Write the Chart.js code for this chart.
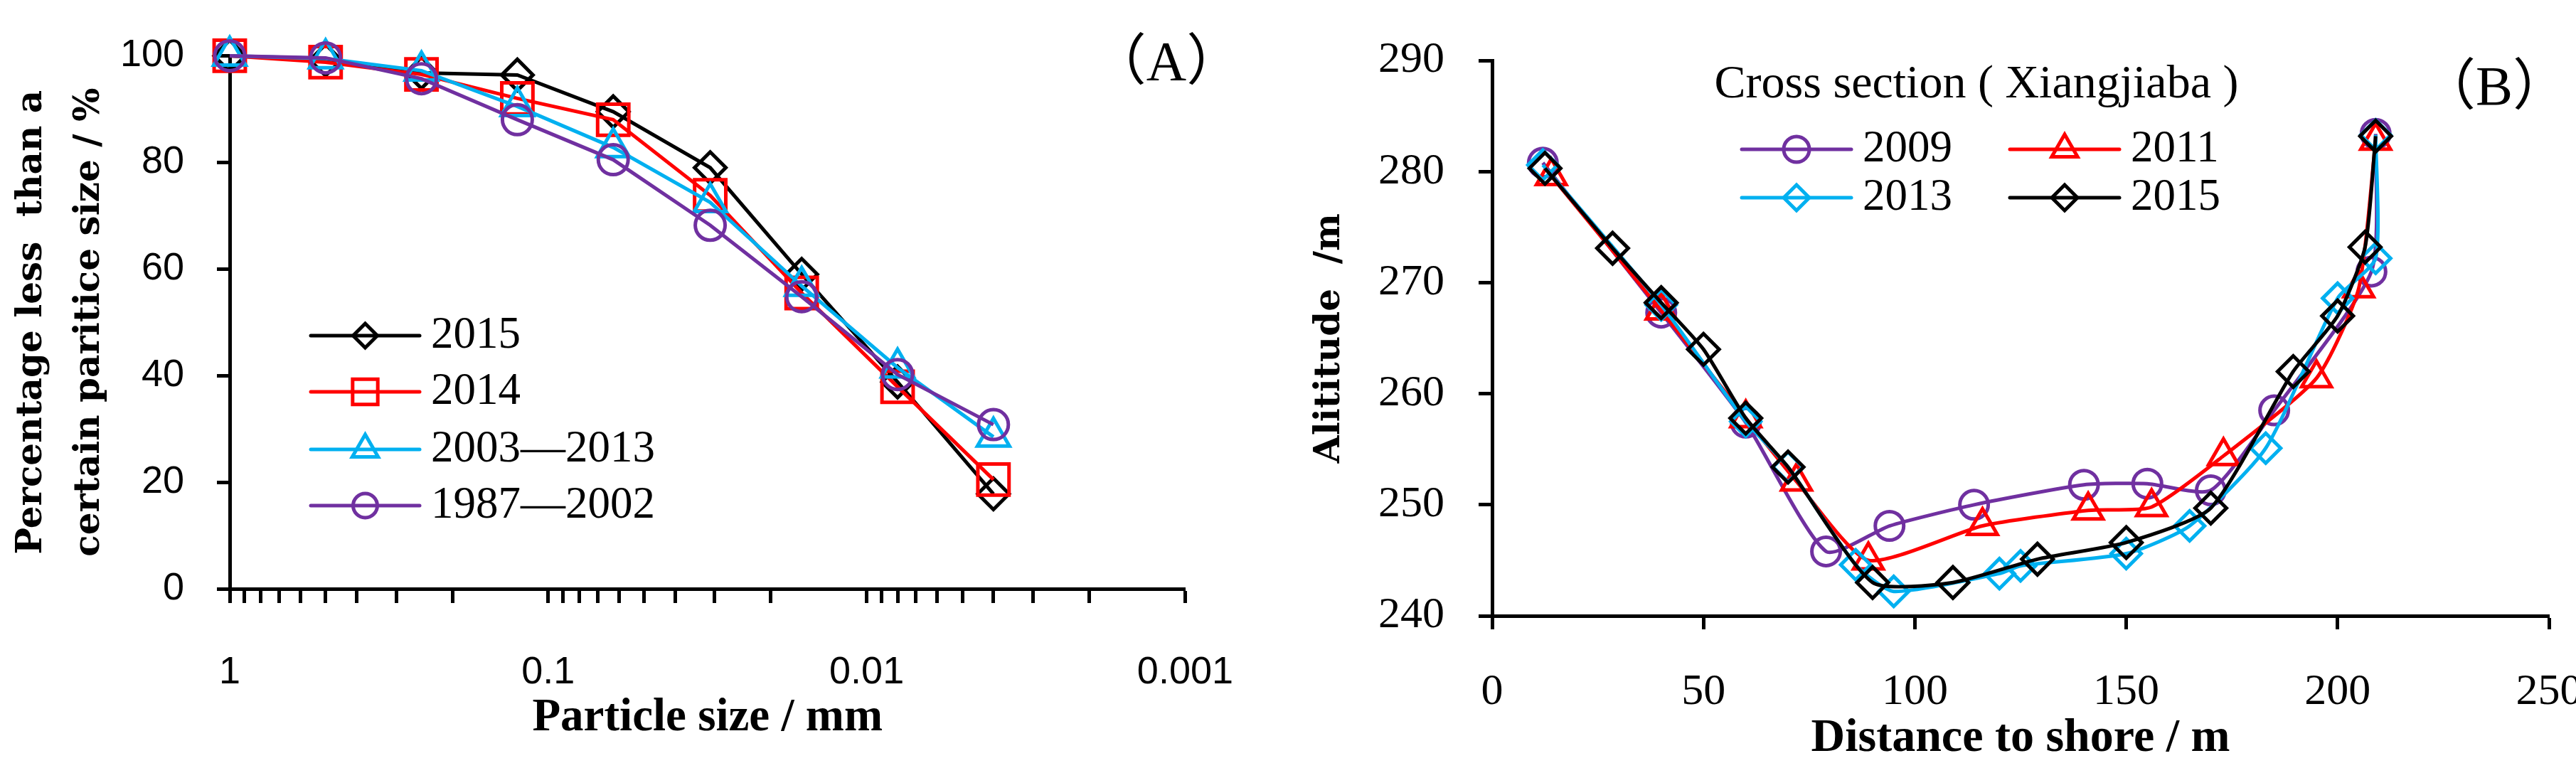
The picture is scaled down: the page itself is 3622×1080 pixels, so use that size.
<!DOCTYPE html>
<html>
<head>
<meta charset="utf-8">
<title>Particle size and cross section</title>
<script src="https://cdn.jsdelivr.net/npm/chart.js@4.4.1/dist/chart.umd.min.js"></script>
<style>
  html, body { margin: 0; padding: 0; background: #fff; overflow: hidden; width: 3622px; height: 1080px; }
  #chartA { position: absolute; left: 0; top: 0; }
  #chartB { position: absolute; left: 1800px; top: 0; }
</style>
</head>
<body>
<canvas id="chartA" width="1800" height="1080"></canvas>
<canvas id="chartB" width="1900" height="1080"></canvas>
<script>
// ---- (A) percentage finer than a given particle size ----
const sizes = [1, 0.5, 0.25, 0.125, 0.0625, 0.031, 0.016, 0.008, 0.004];
const finer2015 = [100, 99.2, 96.8, 96.4, 89.5, 79.0, 59.0, 38.8, 17.8];
const finer2014 = [100, 98.8, 96.5, 92.0, 88.0, 73.8, 55.5, 37.9, 20.5];
const finer2003to2013 = [100, 99.5, 97.2, 90.5, 82.8, 72.5, 56.8, 41.5, 28.5];
const finer1987to2002 = [100, 99.6, 95.7, 88.0, 80.5, 68.2, 54.8, 40.2, 30.8];
const sizeTickLabels = ['1', '0.1', '0.01', '0.001'];
const percentTicks = [0, 20, 40, 60, 80, 100];

// ---- (B) cross section at Xiangjiaba ----
const dist2009 = [12, 40, 60, 79, 94, 114, 140, 155, 170, 185, 208, 209];
const alt2009 = [280.8, 267.3, 257.4, 245.8, 248.1, 250.0, 251.8, 251.9, 251.3, 258.5, 271.0, 283.4];
const dist2011 = [14, 40, 60, 72, 89, 116, 141, 156, 173, 195, 205, 209];
const alt2011 = [279.6, 267.5, 257.8, 252.1, 245.0, 248.1, 249.5, 249.8, 254.4, 261.4, 269.5, 282.8];
const dist2013 = [12, 40, 60, 70, 86, 95, 120, 125, 150, 165, 183, 200, 209, 209];
const alt2013 = [280.6, 268.0, 257.5, 253.4, 244.6, 242.2, 243.8, 244.5, 245.6, 248.1, 255.1, 268.6, 272.2, 283.3];
const dist2015 = [12.5, 28.5, 40, 50, 60, 70, 90, 109, 129, 150, 170, 189.5, 200, 206.5, 209];
const alt2015 = [280.3, 273.1, 268.2, 264.0, 257.8, 253.4, 243.0, 243.0, 245.1, 246.6, 249.7, 262.0, 267.0, 273.2, 283.2];
const distanceTicks = [0, 50, 100, 150, 200, 250];
const altitudeTicks = [240, 250, 260, 270, 280, 290];

const BLACK = '#000000', RED = '#ff0000', CYAN = '#00b0f0', PURPLE = '#7030a0';
const NONE = 'rgba(0,0,0,0)';
const SERIF = "'Liberation Serif', 'Times New Roman', serif";
const WIDE_SERIF = "'DejaVu Serif', serif";

// log axis: a tick at every 1..9 step of each decade, labels only on the decades
const decades = sizeTickLabels.map(Number);
const sizeTickValues = [];
decades.slice(0, -1).forEach(d => {
  for (let m = 10; m >= 2; m--) sizeTickValues.push(Number((d * m / 10).toPrecision(6)));
});
sizeTickValues.push(decades[decades.length - 1]);

function zip(xs, ys) {
  return xs.map((x, i) => ({ x: x, y: ys[i] }));
}

function series(label, xs, ys, color, style, radius, order, tension) {
  return {
    label: label,
    data: zip(xs, ys),
    borderColor: color,
    backgroundColor: NONE,
    borderWidth: 5,
    pointStyle: style,
    pointRadius: radius,
    pointHoverRadius: radius,
    pointBorderWidth: 5,
    pointBorderColor: color,
    pointBackgroundColor: NONE,
    tension: tension,
    clip: false,
    order: order
  };
}

// legend drawn as line sample with marker in the middle, like the original figure
function sampleLegend(cfg) {
  return {
    id: 'sampleLegend',
    afterDraw(chart) {
      const ctx = chart.ctx;
      ctx.save();
      if (cfg.title) {
        ctx.fillStyle = '#000';
        ctx.font = cfg.title.font;
        ctx.textAlign = 'center';
        ctx.textBaseline = 'middle';
        ctx.fillText(cfg.title.text, cfg.title.x, cfg.title.y);
      }
      cfg.items.forEach((pos, i) => {
        const ds = chart.data.datasets[i];
        ctx.strokeStyle = ds.borderColor;
        ctx.lineWidth = ds.borderWidth;
        ctx.lineCap = 'round';
        ctx.beginPath();
        ctx.moveTo(pos.x, pos.y);
        ctx.lineTo(pos.x + cfg.lineLength, pos.y);
        ctx.stroke();
        ctx.lineCap = 'butt';
        ctx.fillStyle = NONE;
        ctx.lineWidth = ds.pointBorderWidth;
        Chart.helpers.drawPoint(ctx, {
          pointStyle: ds.pointStyle,
          radius: cfg.radii[i],
          rotation: 0,
          borderWidth: ds.pointBorderWidth
        }, pos.x + cfg.lineLength / 2, pos.y);
        ctx.fillStyle = '#000';
        ctx.font = cfg.font;
        ctx.textAlign = 'left';
        ctx.textBaseline = 'middle';
        ctx.fillText(ds.label, pos.x + cfg.lineLength + cfg.gap, pos.y);
      });
      ctx.fillStyle = '#000';
      ctx.font = cfg.panel.font;
      ctx.textAlign = 'center';
      ctx.textBaseline = 'middle';
      ctx.fillText(cfg.panel.text, cfg.panel.x, cfg.panel.y);
      ctx.restore();
    }
  };
}

function axisStyle(tickLength) {
  return {
    grid: { display: true, drawOnChartArea: false, drawTicks: true, tickLength: tickLength, tickWidth: 5, tickColor: BLACK },
    border: { display: true, color: BLACK, width: 5 }
  };
}

// ---------- chart A ----------
new Chart(document.getElementById('chartA').getContext('2d'), {
  type: 'line',
  data: {
    datasets: [
      series('2015', sizes, finer2015, BLACK, 'rectRot', 22, 4, 0),
      series('2014', sizes, finer2014, RED, 'rect', 31, 3, 0),
      series('2003\u20142013', sizes, finer2003to2013, CYAN, 'triangle', 26, 2, 0),
      series('1987\u20142002', sizes, finer1987to2002, PURPLE, 'circle', 21, 1, 0)
    ]
  },
  options: {
    responsive: false,
    animation: false,
    devicePixelRatio: 1,
    layout: { padding: { left: 0, top: 70, right: 84, bottom: 0 } },
    plugins: { legend: { display: false }, tooltip: { enabled: false } },
    scales: {
      x: Object.assign({
        type: 'logarithmic',
        reverse: true,
        min: decades[decades.length - 1],
        max: decades[0],
        afterBuildTicks: scale => { scale.ticks = sizeTickValues.map(v => ({ value: v })); },
        afterFit: scale => { scale.height = 252; },
        ticks: {
          autoSkip: false,
          maxRotation: 0,
          padding: 66,
          color: BLACK,
          font: { family: "'Liberation Sans', Arial, sans-serif", size: 54 },
          callback: value => {
            const hit = sizeTickLabels.find(l => Math.abs(Number(l) - value) / value < 1e-6);
            return hit === undefined ? '' : hit;
          }
        },
        title: {
          display: true,
          text: 'Particle size / mm',
          color: BLACK,
          font: { family: SERIF, size: 65, weight: 'bold' },
          padding: { top: 0, bottom: 31 }
        }
      }, axisStyle(20)),
      y: Object.assign({
        min: percentTicks[0],
        max: percentTicks[percentTicks.length - 1],
        afterFit: scale => { scale.width = 323; },
        ticks: {
          stepSize: percentTicks[1] - percentTicks[0],
          padding: 46,
          color: BLACK,
          font: { family: "'Liberation Sans', Arial, sans-serif", size: 54 }
        },
        title: {
          display: true,
          text: ['Percentage less  than a', 'certain paritice size / %'],
          color: BLACK,
          font: { family: WIDE_SERIF, size: 50, weight: 'bold', lineHeight: 1.62 },
          padding: { top: 5, bottom: 0 }
        }
      }, axisStyle(18))
    }
  },
  plugins: [sampleLegend({
    lineLength: 153,
    gap: 16,
    font: '63px ' + SERIF,
    radii: [17, 25, 21, 17],
    items: [{ x: 437, y: 472 }, { x: 437, y: 551 }, { x: 437, y: 632 }, { x: 437, y: 711 }],
    panel: { text: '\uff08A\uff09', x: 1640, y: 92, font: "78px 'Liberation Serif', 'Noto Sans CJK SC', serif" }
  })]
});

// ---------- chart B ----------
new Chart(document.getElementById('chartB').getContext('2d'), {
  type: 'line',
  data: {
    datasets: [
      series('2009', dist2009, alt2009, PURPLE, 'circle', 20, 4, 0.2),
      series('2011', dist2011, alt2011, RED, 'triangle', 24, 3, 0.2),
      series('2013', dist2013, alt2013, CYAN, 'rectRot', 21, 2, 0.2),
      series('2015', dist2015, alt2015, BLACK, 'rectRot', 22, 1, 0.2)
    ]
  },
  options: {
    responsive: false,
    animation: false,
    devicePixelRatio: 1,
    layout: { padding: { left: 0, top: 38, right: 116, bottom: 0 } },
    plugins: { legend: { display: false }, tooltip: { enabled: false } },
    scales: {
      x: Object.assign({
        type: 'linear',
        min: distanceTicks[0],
        max: distanceTicks[distanceTicks.length - 1],
        afterFit: scale => { scale.height = 214; },
        ticks: {
          stepSize: distanceTicks[1] - distanceTicks[0],
          maxRotation: 0,
          padding: 52,
          color: BLACK,
          font: { family: SERIF, size: 62 }
        },
        title: {
          display: true,
          text: 'Distance to shore / m',
          color: BLACK,
          font: { family: SERIF, size: 66, weight: 'bold' },
          padding: { top: 0, bottom: 1 }
        }
      }, axisStyle(19)),
      y: Object.assign({
        min: altitudeTicks[0],
        max: altitudeTicks[altitudeTicks.length - 1],
        afterFit: scale => { scale.width = 298; },
        ticks: {
          stepSize: altitudeTicks[1] - altitudeTicks[0],
          padding: 48,
          color: BLACK,
          font: { family: SERIF, size: 62 }
        },
        title: {
          display: true,
          text: 'Alititude  /m',
          color: BLACK,
          font: { family: WIDE_SERIF, size: 50, weight: 'bold', lineHeight: 1.2 },
          padding: { top: 40, bottom: 0 }
        }
      }, axisStyle(19))
    }
  },
  plugins: [sampleLegend({
    lineLength: 154,
    gap: 16,
    font: '63px ' + SERIF,
    radii: [18, 21, 18, 18],
    items: [{ x: 649, y: 210 }, { x: 1026, y: 210 }, { x: 649, y: 278 }, { x: 1026, y: 278 }],
    title: { text: 'Cross section ( Xiangjiaba )', x: 979, y: 120, font: '66px ' + SERIF },
    panel: { text: '\uff08B\uff09', x: 1707, y: 127, font: "78px 'Liberation Serif', 'Noto Sans CJK SC', serif" }
  })]
});
</script>
</body>
</html>
